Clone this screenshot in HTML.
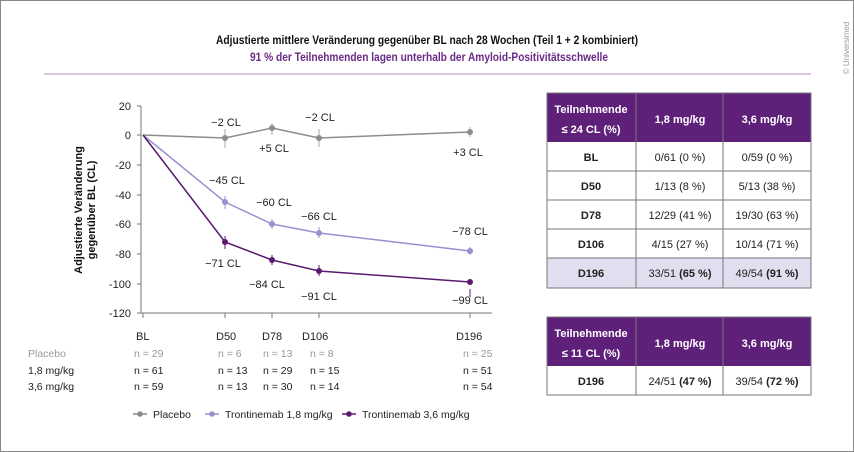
<!DOCTYPE html>
<html><head><meta charset="utf-8"><style>
html,body{margin:0;padding:0;background:#fff}
svg{display:block;font-family:"Liberation Sans Narrow","Liberation Sans",sans-serif}
</style></head><body>
<svg width="854" height="452" viewBox="0 0 854 452" xmlns="http://www.w3.org/2000/svg">
<rect x="0.5" y="0.5" width="853" height="451" fill="#fff" stroke="#888"/>
<text x="216" y="44" font-size="11.5" font-weight="bold" fill="#111" textLength="422" lengthAdjust="spacingAndGlyphs">Adjustierte mittlere Veränderung gegenüber BL nach 28 Wochen (Teil 1 + 2 kombiniert)</text>
<text x="250" y="61" font-size="11.5" font-weight="bold" fill="#6a2a86" textLength="358" lengthAdjust="spacingAndGlyphs">91 % der Teilnehmenden lagen unterhalb der Amyloid-Positivitätsschwelle</text>
<line x1="44" y1="74" x2="811" y2="74" stroke="#b48cc6" stroke-width="1"/>
<text transform="translate(849,48) rotate(-90)" font-size="8" fill="#999" text-anchor="middle">© Universimed</text>

<g stroke="#777" stroke-width="1" fill="none">
<line x1="141" y1="106" x2="141" y2="313"/>
<line x1="141" y1="313" x2="492" y2="313"/>
<line x1="137" y1="106" x2="141" y2="106"/><line x1="137" y1="135" x2="141" y2="135"/>
<line x1="137" y1="165" x2="141" y2="165"/><line x1="137" y1="195" x2="141" y2="195"/>
<line x1="137" y1="224" x2="141" y2="224"/><line x1="137" y1="254" x2="141" y2="254"/>
<line x1="137" y1="284" x2="141" y2="284"/><line x1="137" y1="313" x2="141" y2="313"/>
<line x1="143" y1="313" x2="143" y2="318"/><line x1="225" y1="313" x2="225" y2="318"/>
<line x1="272" y1="313" x2="272" y2="318"/><line x1="319" y1="313" x2="319" y2="318"/>
<line x1="470" y1="313" x2="470" y2="318"/>
</g>
<g font-size="11" fill="#222" text-anchor="end">
<text x="131" y="110">20</text><text x="131" y="139">0</text><text x="131" y="169">-20</text>
<text x="131" y="199">-40</text><text x="131" y="228">-60</text><text x="131" y="258">-80</text>
<text x="131" y="288">-100</text><text x="131" y="317">-120</text>
</g>
<text transform="translate(82,210) rotate(-90)" font-size="11" font-weight="bold" text-anchor="middle" fill="#111">Adjustierte Veränderung</text>
<text transform="translate(95,210) rotate(-90)" font-size="11" font-weight="bold" text-anchor="middle" fill="#111">gegenüber BL (CL)</text>

<g stroke="#aaa" stroke-width="1">
<line x1="225" y1="129" x2="225" y2="148"/><line x1="272" y1="123" x2="272" y2="135"/>
<line x1="319" y1="129" x2="319" y2="147"/><line x1="470" y1="127" x2="470" y2="137"/>
</g>
<g stroke="#9a90cf" stroke-width="1">
<line x1="225" y1="196" x2="225" y2="209"/><line x1="272" y1="219" x2="272" y2="229"/>
<line x1="319" y1="227" x2="319" y2="238"/><line x1="470" y1="247" x2="470" y2="255"/>
</g>
<g stroke="#5a1a6e" stroke-width="1">
<line x1="225" y1="236" x2="225" y2="249"/><line x1="272" y1="255" x2="272" y2="265"/>
<line x1="319" y1="265" x2="319" y2="276"/><line x1="470" y1="289" x2="470" y2="297"/>
</g>
<polyline points="143,135 225,138 272,128 319,138 470,132" fill="none" stroke="#8c8c8c" stroke-width="1.5"/>
<polyline points="143,135 225,202 272,224 319,233 470,251" fill="none" stroke="#9a90cf" stroke-width="1.5"/>
<polyline points="143,135 225,242 272,260 319,271 470,282" fill="none" stroke="#5a1a6e" stroke-width="1.5"/>
<g fill="#8c8c8c"><circle cx="225" cy="138" r="3"/><circle cx="272" cy="128" r="3"/><circle cx="319" cy="138" r="3"/><circle cx="470" cy="132" r="3"/></g>
<g fill="#9a90cf"><circle cx="225" cy="202" r="3"/><circle cx="272" cy="224" r="3"/><circle cx="319" cy="233" r="3"/><circle cx="470" cy="251" r="3"/></g>
<g fill="#5a1a6e"><circle cx="225" cy="242" r="3"/><circle cx="272" cy="260" r="3"/><circle cx="319" cy="271" r="3"/><circle cx="470" cy="282" r="3"/></g>
<g font-size="11" fill="#222" text-anchor="middle">
<text x="226" y="126">−2 CL</text><text x="274" y="152">+5 CL</text><text x="320" y="121">−2 CL</text><text x="468" y="156">+3 CL</text>
<text x="227" y="184">−45 CL</text><text x="274" y="206">−60 CL</text><text x="319" y="220">−66 CL</text><text x="470" y="235">−78 CL</text>
<text x="223" y="267">−71 CL</text><text x="267" y="288">−84 CL</text><text x="319" y="300">−91 CL</text><text x="470" y="304">−99 CL</text>
</g>
<g font-size="11" fill="#222">
<text x="136" y="340">BL</text><text x="216" y="340">D50</text><text x="262" y="340">D78</text><text x="302" y="340">D106</text><text x="456" y="340">D196</text>
</g>
<g font-size="10.5" fill="#999">
<text x="28" y="357">Placebo</text><text x="134" y="357">n = 29</text><text x="218" y="357">n = 6</text><text x="263" y="357">n = 13</text><text x="310" y="357">n = 8</text><text x="463" y="357">n = 25</text>
</g>
<g font-size="10.5" fill="#222">
<text x="28" y="374">1,8 mg/kg</text><text x="134" y="374">n = 61</text><text x="218" y="374">n = 13</text><text x="263" y="374">n = 29</text><text x="310" y="374">n = 15</text><text x="463" y="374">n = 51</text>
<text x="28" y="390">3,6 mg/kg</text><text x="134" y="390">n = 59</text><text x="218" y="390">n = 13</text><text x="263" y="390">n = 30</text><text x="310" y="390">n = 14</text><text x="463" y="390">n = 54</text>
</g>
<g font-size="10.5" fill="#222">
<line x1="133" y1="414" x2="147" y2="414" stroke="#8c8c8c" stroke-width="1.5"/><circle cx="140" cy="414" r="2.8" fill="#8c8c8c"/><text x="153" y="418">Placebo</text>
<line x1="205" y1="414" x2="219" y2="414" stroke="#9a90cf" stroke-width="1.5"/><circle cx="212" cy="414" r="2.8" fill="#9a90cf"/><text x="225" y="418">Trontinemab 1,8 mg/kg</text>
<line x1="342" y1="414" x2="356" y2="414" stroke="#5a1a6e" stroke-width="1.5"/><circle cx="349" cy="414" r="2.8" fill="#5a1a6e"/><text x="362" y="418">Trontinemab 3,6 mg/kg</text>
</g>

<rect x="547" y="93" width="264" height="49" fill="#5e2079"/>
<rect x="547" y="258" width="264" height="30" fill="#e2def0"/>
<g stroke="#777" stroke-width="1" fill="none">
<rect x="547" y="93" width="264" height="195"/>
<line x1="547" y1="171" x2="811" y2="171"/><line x1="547" y1="200" x2="811" y2="200"/>
<line x1="547" y1="229" x2="811" y2="229"/><line x1="547" y1="258" x2="811" y2="258"/>
<line x1="636" y1="93" x2="636" y2="288"/><line x1="723" y1="93" x2="723" y2="288"/>
</g>
<g font-size="11" font-weight="bold" fill="#fff" text-anchor="middle">
<text x="591" y="113">Teilnehmende</text><text x="591" y="133">≤ 24 CL (%)</text>
<text x="680" y="123">1,8 mg/kg</text><text x="767" y="123">3,6 mg/kg</text>
</g>
<g font-size="11" fill="#222" text-anchor="middle">
<text x="591" y="161" font-weight="bold">BL</text><text x="680" y="161">0/61 (0 %)</text><text x="767" y="161">0/59 (0 %)</text>
<text x="591" y="190" font-weight="bold">D50</text><text x="680" y="190">1/13 (8 %)</text><text x="767" y="190">5/13 (38 %)</text>
<text x="591" y="219" font-weight="bold">D78</text><text x="680" y="219">12/29 (41 %)</text><text x="767" y="219">19/30 (63 %)</text>
<text x="591" y="248" font-weight="bold">D106</text><text x="680" y="248">4/15 (27 %)</text><text x="767" y="248">10/14 (71 %)</text>
<text x="591" y="277" font-weight="bold">D196</text><text x="680" y="277">33/51 <tspan font-weight="bold">(65 %)</tspan></text><text x="767" y="277">49/54 <tspan font-weight="bold">(91 %)</tspan></text>
</g>
<rect x="547" y="317" width="264" height="49" fill="#5e2079"/>
<g stroke="#777" stroke-width="1" fill="none">
<rect x="547" y="317" width="264" height="78"/>
<line x1="636" y1="317" x2="636" y2="395"/><line x1="723" y1="317" x2="723" y2="395"/>
</g>
<g font-size="11" font-weight="bold" fill="#fff" text-anchor="middle">
<text x="591" y="337">Teilnehmende</text><text x="591" y="357">≤ 11 CL (%)</text>
<text x="680" y="347">1,8 mg/kg</text><text x="767" y="347">3,6 mg/kg</text>
</g>
<g font-size="11" fill="#222" text-anchor="middle">
<text x="591" y="385" font-weight="bold">D196</text><text x="680" y="385">24/51 <tspan font-weight="bold">(47 %)</tspan></text><text x="767" y="385">39/54 <tspan font-weight="bold">(72 %)</tspan></text>
</g>
</svg>
</body></html>
